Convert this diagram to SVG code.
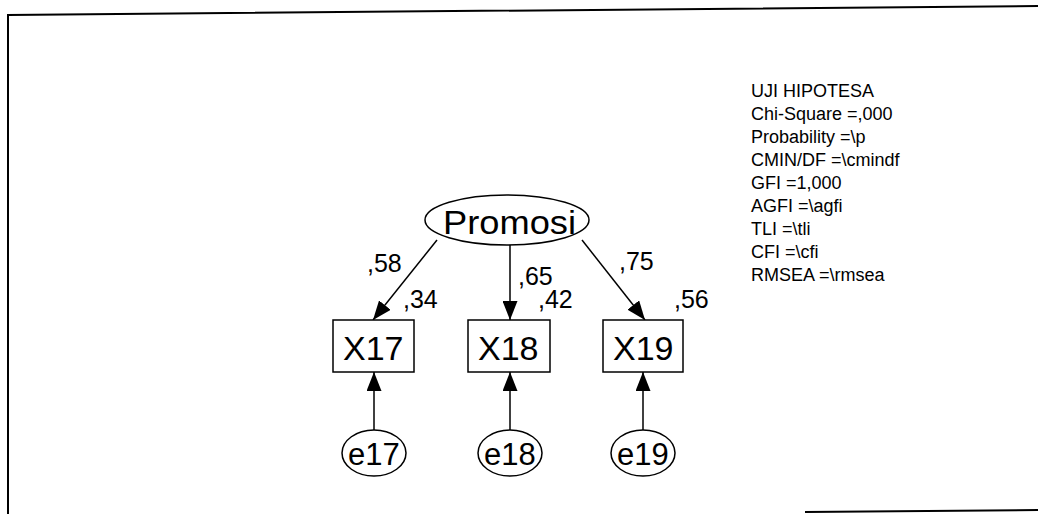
<svg xmlns="http://www.w3.org/2000/svg" width="1038" height="514" viewBox="0 0 1038 514">
<style>
text{font-family:"Liberation Sans",Arial,sans-serif;fill:#000}
.shape{fill:#fff;stroke:#000;stroke-width:1.5}
.big{font-size:34px}
.err{font-size:31px}
.lbl{font-size:25px}
.info{font-size:18px}
.edge{stroke:#000;stroke-width:1.5;fill:none;marker-end:url(#ah)}
.frame{stroke:#000;stroke-width:2;fill:none}
</style>
<defs>
<marker id="ah" markerUnits="userSpaceOnUse" markerWidth="19" markerHeight="15" refX="19" refY="7.5" orient="auto">
<path d="M0,0 L19,7.5 L0,15 z" fill="#000"/>
</marker>
</defs>
<rect width="1038" height="514" fill="#fff"/>
<g id="frame">
<path class="frame" d="M8,514 L8,15 L1038,6"/>
<path class="frame" d="M805,512 L1038,510"/>
</g>
<g id="connectors">
<line class="edge" x1="437" y1="240" x2="373" y2="320"/>
<line class="edge" x1="510" y1="245" x2="510" y2="320"/>
<line class="edge" x1="582" y1="240" x2="645" y2="320"/>
<line class="edge" x1="374" y1="430" x2="374" y2="372"/>
<line class="edge" x1="510" y1="430" x2="510" y2="372"/>
<line class="edge" x1="643" y1="430" x2="643" y2="372"/>
</g>
<g id="labels">
<text class="lbl" x="367" y="272">,58</text>
<text class="lbl" x="403" y="308">,34</text>
<text class="lbl" x="518" y="285">,65</text>
<text class="lbl" x="538" y="308">,42</text>
<text class="lbl" x="619" y="270">,75</text>
<text class="lbl" x="674" y="308">,56</text>
</g>
<g id="Promosi">
<ellipse class="shape" cx="507" cy="220" rx="82" ry="25"/>
<text class="big" x="443" y="234" textLength="133" lengthAdjust="spacingAndGlyphs">Promosi</text>
</g>
<g id="X17">
<rect class="shape" x="333" y="320" width="81" height="52"/>
<text class="big" x="343" y="360">X17</text>
</g>
<g id="X18">
<rect class="shape" x="468" y="320" width="82" height="52"/>
<text class="big" x="478" y="360">X18</text>
</g>
<g id="X19">
<rect class="shape" x="603" y="320" width="80" height="52"/>
<text class="big" x="613" y="360">X19</text>
</g>
<g id="e17">
<ellipse class="shape" cx="374" cy="453" rx="32" ry="23"/>
<text class="err" x="348" y="465">e17</text>
</g>
<g id="e18">
<ellipse class="shape" cx="510" cy="453" rx="32" ry="23"/>
<text class="err" x="484" y="465">e18</text>
</g>
<g id="e19">
<ellipse class="shape" cx="643" cy="453" rx="32" ry="23"/>
<text class="err" x="617" y="465">e19</text>
</g>
<g id="info">
<text class="info" x="751" y="97">UJI HIPOTESA</text>
<text class="info" x="751" y="120">Chi-Square =,000</text>
<text class="info" x="751" y="143">Probability =\p</text>
<text class="info" x="751" y="166">CMIN/DF =\cmindf</text>
<text class="info" x="751" y="189">GFI =1,000</text>
<text class="info" x="751" y="212">AGFI =\agfi</text>
<text class="info" x="751" y="235">TLI =\tli</text>
<text class="info" x="751" y="258">CFI =\cfi</text>
<text class="info" x="751" y="281">RMSEA =\rmsea</text>
</g>
</svg>
